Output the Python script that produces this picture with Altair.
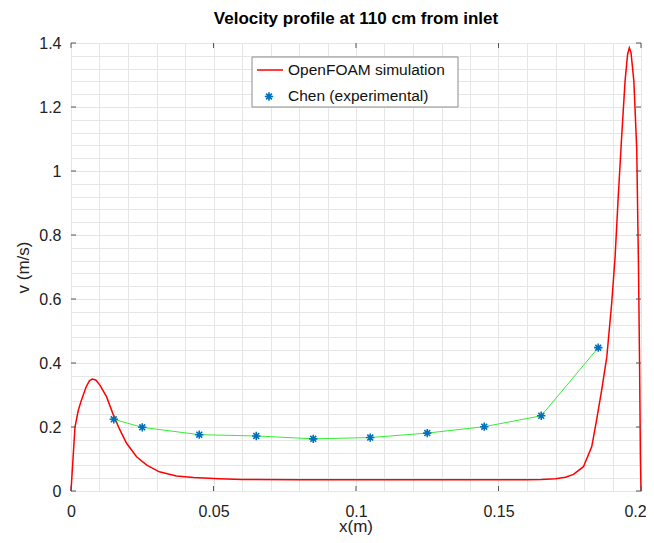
import altair as alt
import pandas as pd

TITLE = "Velocity profile at 110 cm from inlet"
X_LABEL = "x(m)"
Y_LABEL = "v (m/s)"
SIM_NAME = "OpenFOAM simulation"
EXP_NAME = "Chen (experimental)"

# OpenFOAM simulation profile
sim_x = [0.0, 0.0007, 0.0014, 0.0025, 0.0035, 0.0053, 0.0065, 0.0075, 0.0087,
         0.0102, 0.0125, 0.0149, 0.0172, 0.0195, 0.023, 0.0266, 0.031, 0.037,
         0.043, 0.052, 0.06, 0.08, 0.10, 0.12, 0.14, 0.16, 0.165, 0.17, 0.1735,
         0.1763, 0.1798, 0.1827, 0.1844, 0.1862, 0.188, 0.1897, 0.1909, 0.192,
         0.1932, 0.1944, 0.1953, 0.1959, 0.1965, 0.1975, 0.1985, 0.1991, 0.1995,
         0.1998, 0.2]
sim_v = [0.0, 0.10, 0.20, 0.25, 0.28, 0.325, 0.345, 0.35, 0.347,
         0.33, 0.294, 0.237, 0.19, 0.149, 0.107, 0.081, 0.060, 0.047,
         0.042, 0.038, 0.036, 0.035, 0.035, 0.035, 0.035, 0.035, 0.036, 0.038, 0.043,
         0.052, 0.076, 0.138, 0.221, 0.315, 0.419, 0.585, 0.73, 0.918,
         1.105, 1.28, 1.365, 1.385, 1.37, 1.28, 1.07, 0.71, 0.4,
         0.1, 0.0]

# Chen experimental points
exp_x = [0.015, 0.025, 0.045, 0.065, 0.085, 0.105, 0.125, 0.145, 0.165, 0.185]
exp_v = [0.224, 0.199, 0.176, 0.172, 0.163, 0.167, 0.181, 0.201, 0.235, 0.448]

x_ticks = [0, 0.05, 0.1, 0.15, 0.2]
y_ticks = [0, 0.2, 0.4, 0.6, 0.8, 1.0, 1.2, 1.4]
x_grid = [round(0.01 * i, 2) for i in range(21)]
y_grid = [round(0.04 * i, 2) for i in range(36)]

FONT = "Liberation Sans"
W, H = 570, 448
AX = "#555555"

sim_df = pd.DataFrame({"x": sim_x, "v": sim_v})
exp_df = pd.DataFrame({"x": exp_x, "v": exp_v})
xt_df = pd.DataFrame({"x": x_ticks})
yt_df = pd.DataFrame({"v": y_ticks})

xs = alt.Scale(domain=[0, 0.2], nice=False, zero=False)
ys = alt.Scale(domain=[0, 1.4], nice=False, zero=False)

x_axis = alt.Axis(values=x_grid, tickCount=500, grid=True, gridColor="#e6e6e6", gridWidth=1,
                  ticks=False, domain=False, labelFlush=False, labelOverlap=False,
                  labelExpr="round(datum.value*100) % 5 == 0 ? format(datum.value, '~g') : ''",
                  labelOffset={"condition": {"test": "datum.value > 0.195", "value": -6}, "value": 0},
                  labelPadding=12, labelFontSize=16, labelFont=FONT, labelColor="#222",
                  title=None)
y_axis = alt.Axis(values=y_grid, tickCount=500, grid=True, gridColor="#e6e6e6", gridWidth=1,
                  ticks=False, domain=False, labelFlush=False, labelOverlap=False,
                  labelExpr="round(datum.value*100) % 20 == 0 ? format(datum.value, '~g') : ''",
                  labelPadding=10, labelFontSize=16, labelFont=FONT, labelColor="#222",
                  title=Y_LABEL, titleFontSize=17, titleFont=FONT, titleFontWeight="normal",
                  titleColor="#222", titlePadding=6)

X = alt.X("x:Q", scale=xs)
Y = alt.Y("v:Q", scale=ys)

sim = alt.Chart(sim_df).mark_line(color="#ff0000", strokeWidth=1.5).encode(
    x=alt.X("x:Q", scale=xs, axis=x_axis),
    y=alt.Y("v:Q", scale=ys, axis=y_axis),
    order="x:Q",
)

exp_line = alt.Chart(exp_df).mark_line(color="#33ee33", strokeWidth=1).encode(x=X, y=Y)

ASTER = "M0,-1L0,1M-1,0L1,0M-0.7,-0.7L0.7,0.7M-0.7,0.7L0.7,-0.7"
exp_pts = alt.Chart(exp_df).mark_point(shape=ASTER, filled=False, color="#0072BD",
                                       strokeWidth=1.6, size=70, opacity=1).encode(x=X, y=Y)

tick_b = alt.Chart(xt_df).mark_rule(color=AX, strokeWidth=1).encode(
    x=X, y=alt.value(H), y2=alt.value(H - 5))
tick_t = alt.Chart(xt_df).mark_rule(color=AX, strokeWidth=1).encode(
    x=X, y=alt.value(0), y2=alt.value(5))
tick_l = alt.Chart(yt_df).mark_rule(color=AX, strokeWidth=1).encode(
    y=Y, x=alt.value(0), x2=alt.value(5))
tick_r = alt.Chart(yt_df).mark_rule(color=AX, strokeWidth=1).encode(
    y=Y, x=alt.value(W - 5), x2=alt.value(W))

one = pd.DataFrame({"a": [0]})
title_txt = alt.Chart(one).mark_text(text=TITLE, align="center", baseline="alphabetic",
                                     font=FONT, fontSize=17, fontWeight="bold",
                                     color="#000").encode(
    x=alt.value(W / 2), y=alt.value(-19))
x_title = alt.Chart(one).mark_text(text=X_LABEL, align="center", baseline="alphabetic",
                                   font=FONT, fontSize=17, color="#222").encode(
    x=alt.value(W / 2), y=alt.value(H + 41))
leg_box = alt.Chart(one).mark_rect(fill="white", stroke="#8c8c8c", strokeWidth=1).encode(
    x=alt.value(181), x2=alt.value(387), y=alt.value(14), y2=alt.value(64))
leg_line = alt.Chart(one).mark_rule(color="#ff0000", strokeWidth=1.5).encode(
    x=alt.value(186), x2=alt.value(212), y=alt.value(27))
leg_pt = alt.Chart(one).mark_point(shape=ASTER, filled=False, color="#0072BD",
                                   strokeWidth=1.6, size=70, opacity=1).encode(
    x=alt.value(198), y=alt.value(53.5))
leg_t1 = alt.Chart(one).mark_text(text=SIM_NAME, align="left", baseline="middle",
                                  font=FONT, fontSize=15.5, color="#111").encode(
    x=alt.value(217), y=alt.value(26.5))
leg_t2 = alt.Chart(one).mark_text(text=EXP_NAME, align="left", baseline="middle",
                                  font=FONT, fontSize=15.5, color="#111").encode(
    x=alt.value(217), y=alt.value(53))

chart = alt.layer(
    sim, exp_line, exp_pts, tick_b, tick_t, tick_l, tick_r, x_title, title_txt,
    leg_box, leg_line, leg_pt, leg_t1, leg_t2,
).properties(
    width=W, height=H,
    padding={"left": 63, "top": 35, "right": 5, "bottom": 44},
    autosize="none",
).configure_view(stroke=AX, strokeWidth=1)

chart.save("out.html", embed_options={"renderer": "svg", "actions": False})
